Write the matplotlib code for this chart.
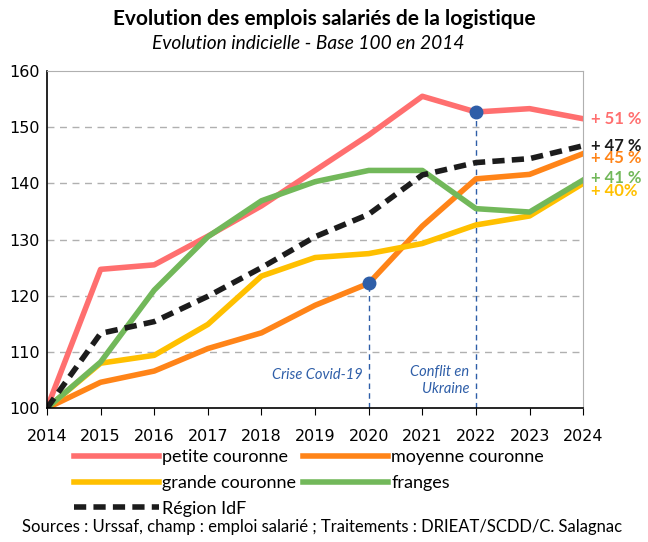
import matplotlib.pyplot as plt

plt.rcParams['font.family'] = ['Lato', 'DejaVu Sans']

years = [2014, 2015, 2016, 2017, 2018, 2019, 2020, 2021, 2022, 2023, 2024]
petite = [100, 124.7, 125.5, 130.6, 136.0, 142.3, 148.6, 155.5, 152.7, 153.3, 151.5]
moyenne = [100, 104.6, 106.6, 110.6, 113.4, 118.3, 122.2, 132.4, 140.8, 141.6, 145.3]
grande = [100, 108.0, 109.4, 114.9, 123.5, 126.8, 127.5, 129.3, 132.6, 134.2, 140.0]
franges = [100, 108.2, 121.0, 130.5, 136.9, 140.3, 142.3, 142.3, 135.5, 134.9, 140.6]
idf = [100, 113.3, 115.4, 119.9, 125.0, 130.5, 134.5, 141.5, 143.7, 144.4, 146.7]

end_labels = ["+ 51 %", "+ 47 %", "+ 45 %", "+ 41 %", "+ 40%"]
end_label_y = [151.5, 146.6, 144.6, 141.0, 138.6]

events = [(2020, 122.2, "Crise Covid-19"), (2022, 152.7, "Conflit en\nUkraine")]

c_red = "#ff6f6f"
c_orange = "#ff8418"
c_yellow = "#ffc000"
c_green = "#72b85a"
c_black = "#1c1c1c"
c_blue = "#2e5ea8"

fig = plt.figure(figsize=(6.48, 5.42), dpi=100)
ax = fig.add_axes([0.0725, 0.247, 0.8275, 0.622])

for y in [110, 120, 130, 140, 150]:
    ax.axhline(y, color="#b0b0b0", lw=1, ls=(0, (5, 4)), zorder=0)

l1, = ax.plot(years, petite, color=c_red, lw=4)
l2, = ax.plot(years, moyenne, color=c_orange, lw=4)
l3, = ax.plot(years, grande, color=c_yellow, lw=4)
l4, = ax.plot(years, franges, color=c_green, lw=4)
l5, = ax.plot(years, idf, color=c_black, lw=4, ls=(0, (2.2, 1.3)))

for x, y, txt in events:
    ax.plot([x, x], [100, y], color=c_blue, lw=1, ls=(0, (4, 3)), zorder=1)
    ax.plot(x, y, "o", color=c_blue, ms=9, zorder=5)
    ax.text(x - 0.12, 105.9 if "\n" not in txt else 104.9, txt, ha="right",
            va="center", color=c_blue, style="italic", fontsize=10.5,
            linespacing=1.3)

label_colors = [c_red, c_black, c_orange, c_green, c_yellow]
for txt, y, c in zip(end_labels, end_label_y, label_colors):
    ax.text(2024.15, y, txt, color=c, fontsize=12, fontweight="bold",
            va="center", ha="left")

ax.set_xlim(2014, 2024)
ax.set_ylim(100, 160)
ax.set_xticks(years)
ax.set_yticks([100, 110, 120, 130, 140, 150, 160])
ax.tick_params(axis="x", direction="out", length=5, labelsize=11.5, pad=10)
ax.tick_params(axis="y", length=0, labelsize=11.5, pad=5)
for lab in ax.get_xticklabels() + ax.get_yticklabels():
    lab.set_fontfamily("DejaVu Sans")
ax.spines["top"].set_color("#b0b0b0")
ax.spines["right"].set_color("#b0b0b0")
ax.spines["left"].set_linewidth(1.2)
ax.spines["bottom"].set_linewidth(1.2)

# column-major fill: first column then second column
fig.legend([l1, l3, l5, l2, l4],
           ["petite couronne", "grande couronne", "Région IdF",
            "moyenne couronne", "franges"],
           ncol=2, loc="upper left", bbox_to_anchor=(0.103, 0.185),
           frameon=False, handlelength=4.7, handletextpad=0.2,
           columnspacing=0.35, labelspacing=0.55, borderaxespad=0,
           prop={"size": 13})

fig.text(0.5, 0.965, "Evolution des emplois salariés de la logistique",
         ha="center", va="center", fontsize=15, fontweight="bold")
fig.text(0.475, 0.92, "Evolution indicielle - Base 100 en 2014",
         ha="center", va="center", fontsize=13.8, style="italic")
fig.text(0.034, 0.028,
         "Sources : Urssaf, champ : emploi salarié ; Traitements : DRIEAT/SCDD/C. Salagnac",
         ha="left", va="center", fontsize=12)

fig.savefig("out.png", dpi=100)
